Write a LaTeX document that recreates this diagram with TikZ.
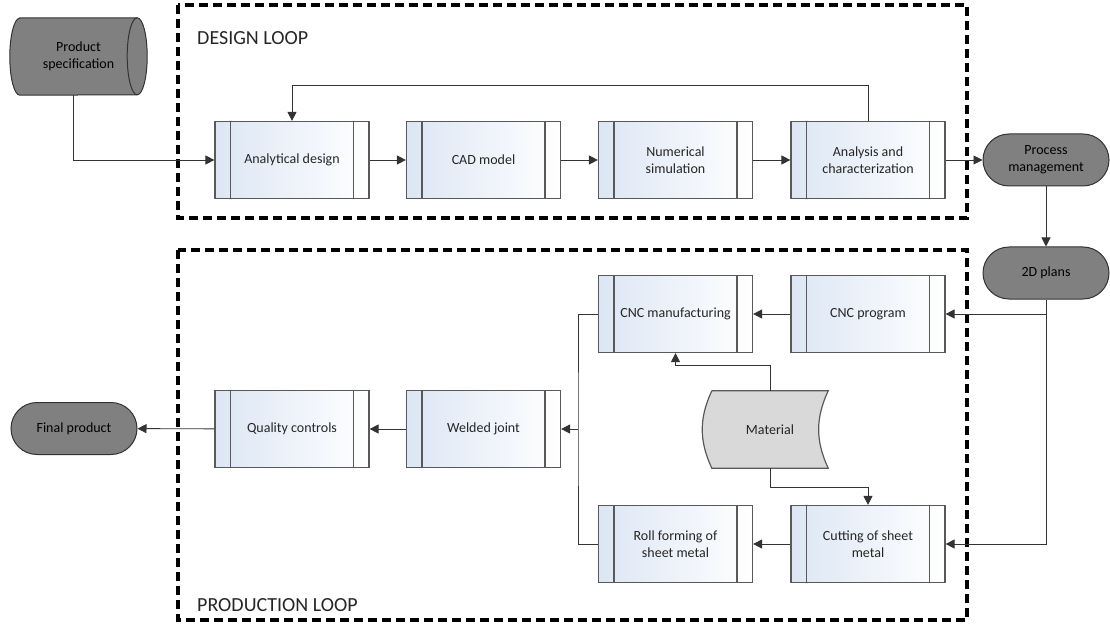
\documentclass[tikz,border=0pt]{standalone}
\usepackage{fontspec}
\setmainfont{Carlito}
\usetikzlibrary{arrows.meta}

\definecolor{boxline}{HTML}{595959}
\definecolor{conline}{HTML}{333333}
\definecolor{termfill}{HTML}{808080}
\definecolor{matfill}{HTML}{D9D9D9}
\definecolor{boxblue}{HTML}{DCE6F4}
\definecolor{txt}{HTML}{262626}

\begin{document}
\begin{tikzpicture}[x=1pt,y=-1pt]
		\tikzstyle{every node}+=[font=\fontsize{14}{17}\selectfont, text=txt]
		\tikzstyle{procbox}=[draw=boxline, line width=1.2pt, left color=boxblue, right color=white, minimum width=154pt, minimum height=77pt, align=center,
			path picture={\draw [boxline, line width=1.2pt] ([xshift=15.5pt]path picture bounding box.north west) -- ([xshift=15.5pt]path picture bounding box.south west);
				\draw [boxline, line width=1.2pt] ([xshift=-15.5pt]path picture bounding box.north east) -- ([xshift=-15.5pt]path picture bounding box.south east);}]
		\tikzstyle{terminal}=[draw=black!80, line width=1pt, fill=termfill, rounded corners=26pt, minimum width=126pt, minimum height=52pt, align=center, text=black]
		\tikzstyle{drawn}=[draw=black!80, line width=1pt]
		\tikzstyle{flow}=[conline, line width=0.9pt, -{Triangle[length=9pt,width=9pt]}]
		\tikzstyle{conn}=[conline, line width=0.9pt]
		\tikzstyle{loopframe}=[black, line width=3.5pt, dash pattern=on 9pt off 5pt]
		\tikzstyle{looptitle}=[font=\fontsize{20}{24}\selectfont, anchor=west, inner sep=0pt]
		\useasboundingbox (0,0) rectangle (1110,628);
		% loops
		\draw [loopframe] (178,5) rectangle (967,218);
		\draw [loopframe] (178,250) rectangle (967,620);
		\node [looptitle] (designtitle) at (197,38) {DESIGN LOOP};
		\node [looptitle] (prodtitle) at (197,605) {PRODUCTION LOOP};
		% design loop
		\node [minimum width=137pt, minimum height=77pt, inner sep=0pt] (spec) at (78.5,56.5) {};
		\draw [drawn, fill=termfill] ([xshift=10pt]spec.north west) -- ([xshift=-10pt]spec.north east) arc (90:-90:10pt and 38.5pt) -- ([xshift=10pt]spec.south west) arc (270:90:10pt and 38.5pt) -- cycle;
		\draw [drawn] ([xshift=-10pt]spec.north east) arc (90:270:10pt and 38.5pt);
		\node [align=center, text=black] (spectext) at (spec) {Product\\specification};
		\node [procbox] (analytical) at (292,160) {Analytical design};
		\node [procbox] (cad) at (483.5,160) {CAD model};
		\node [procbox] (numerical) at (675.5,160) {Numerical\\simulation};
		\node [procbox] (analysis) at (868,160) {Analysis and\\characterization};
		\node [terminal] (procmgmt) at (1046,160) {Process\\management};
		\node [terminal] (plans) at (1046,273) {2D plans};
		% production loop
		\node [procbox] (cncman) at (675.5,314) {CNC manufacturing};
		\node [procbox] (cncprog) at (868,314) {CNC program};
		\node [procbox] (welded) at (483.5,429) {Welded joint};
		\node [procbox] (quality) at (292,429) {Quality controls};
		\node [procbox] (roll) at (675.5,544) {Roll forming of\\sheet metal};
		\node [procbox] (cutting) at (868,544) {Cutting of sheet\\metal};
		\node [terminal] (final) at (74,428.5) {Final product};
		\node [minimum width=116pt, minimum height=77pt, inner sep=0pt] (material) at (770,429.5) {};
		\draw [boxline, line width=1.2pt, fill=matfill] (material.north west) -- (material.north east) to [bend right=25] (material.south east) -- (material.south west) to [bend left=25] (material.north west);
		\node (materialtext) at (material) {Material};
		\coordinate (junc) at (578,429);
		% connectors
		\draw [flow] ([xshift=-5pt]spec.south) |- (analytical.west);
		\draw [flow] (analytical) -- (cad);
		\draw [flow] (cad) -- (numerical);
		\draw [flow] (numerical) -- (analysis);
		\draw [flow] (analysis.north) -- ++(0,-35) -| (analytical.north);
		\draw [flow] (analysis) -- (procmgmt);
		\draw [flow] (procmgmt) -- (plans);
		\draw [flow] (plans.south) |- (cncprog.east);
		\draw [flow] (plans.south) |- (cutting.east);
		\draw [flow] (cncprog) -- (cncman);
		\draw [flow] (material.north) -- ++(0,-25) -| (cncman.south);
		\draw [flow] (material.south) -- ++(0,19) -| (cutting.north);
		\draw [flow] (cutting) -- (roll);
		\draw [conn] (roll.west) -| (junc) |- (cncman.west);
		\draw [flow] (junc) -- (welded.east);
		\draw [flow] (welded) -- (quality);
		\draw [flow] (quality) -- (final);
\end{tikzpicture}
\end{document}
